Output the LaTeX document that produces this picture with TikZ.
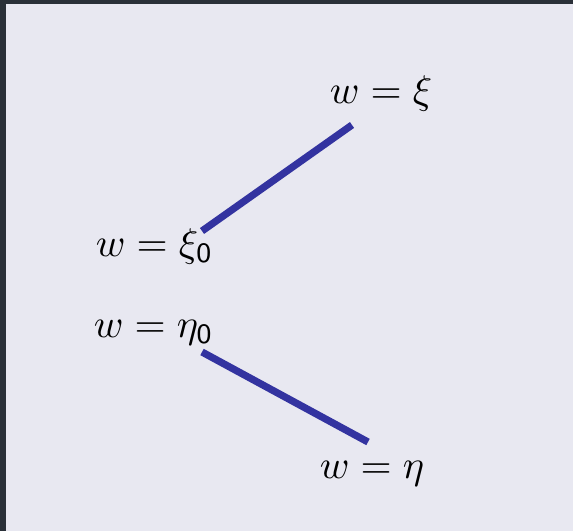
\documentclass[tikz,border=0pt]{standalone}
\begin{document}
\begin{tikzpicture}[x=0.25pt,y=-0.25pt,
  lbl/.style={inner sep=0pt,anchor=base west,font=\fontsize{9.6}{11}\selectfont},
  seg/.style={draw=segblue,line width=1.8pt}]
\definecolor{frame}{HTML}{2A3038}
\definecolor{bg}{HTML}{E8E8F1}
\definecolor{segblue}{HTML}{3333A0}
\useasboundingbox (0,0) rectangle (573,531);
\fill[frame] (0,0) rectangle (573,531);
\fill[bg] (6,4) rectangle (573,531);
\node[lbl] (xi) at (329,104) {$w=\xi$};
\node[lbl] (xi0) at (95,257) {$w=\xi_{\mathsf{0}}$};
\node[lbl] (eta0) at (93,338) {$w=\eta_{\mathsf{0}}$};
\node[lbl] (eta) at (319,478) {$w=\eta$};
\coordinate (a1) at (202,231);
\coordinate (a2) at (352,125);
\coordinate (b1) at (202,352);
\coordinate (b2) at (368,442);
\draw[seg] (a1) -- (a2);
\draw[seg] (b1) -- (b2);
\end{tikzpicture}
\end{document}
